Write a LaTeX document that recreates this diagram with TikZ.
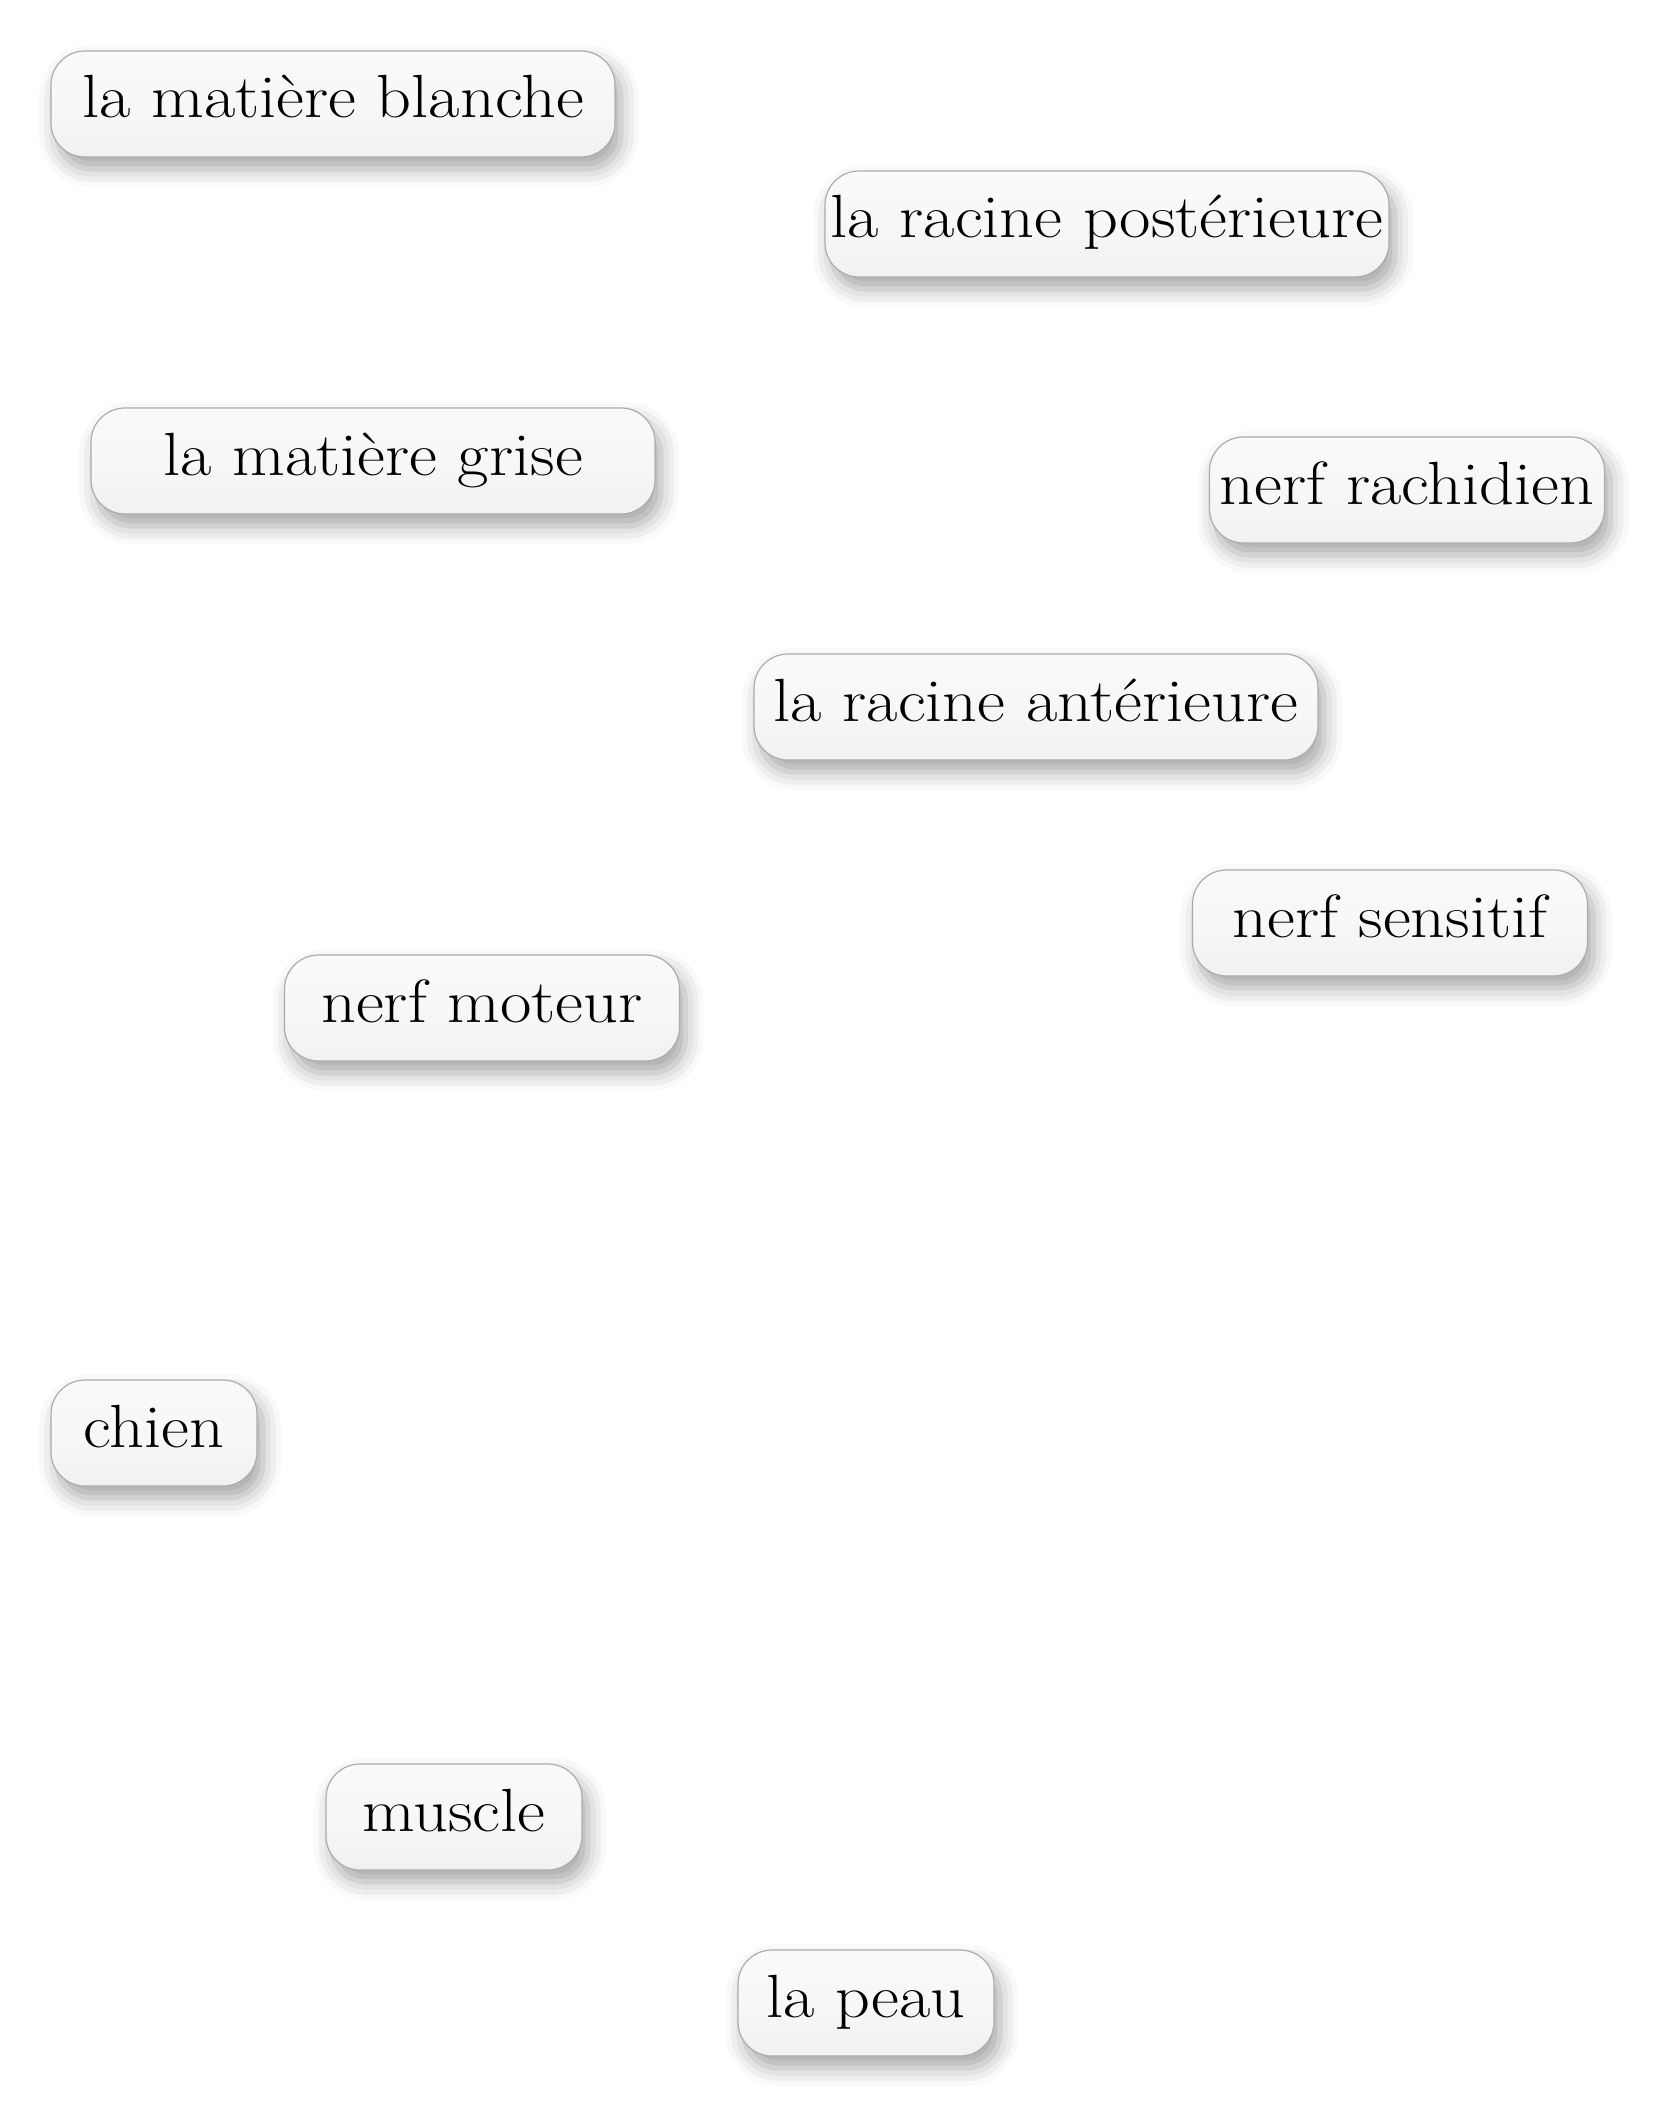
\documentclass[tikz,border=0pt]{standalone}
\usepackage{fontspec}
\setmainfont{Latin Modern Roman}[FakeStretch=1.12]
\usetikzlibrary{shadows.blur}

\tikzset{
  term/.style={rectangle,rounded corners=17pt,draw=gray!65,line width=0.6pt,
    top color=gray!4,bottom color=gray!11,middle color=gray!6,
    minimum height=53pt,inner sep=0pt,text height=20pt,text depth=6pt,
    font=\fontsize{30.5}{36}\selectfont,
    blur shadow={shadow xshift=3pt,shadow yshift=-6pt,shadow blur radius=9pt,shadow opacity=35}},
  wide/.style={minimum width=282pt},
  mid/.style={minimum width=197.5pt}
}

\begin{document}
\begin{tikzpicture}[x=0.5pt,y=-0.5pt]
  \useasboundingbox (0,0) rectangle (1663,2107);
  \node[term,wide] (blanche) at (333,104) {la matière blanche};
  \node[term,wide] (posterieure) at (1107,224) {la racine postérieure};
  \node[term,wide] (grise) at (373,461) {la matière grise};
  \node[term,mid] (rachidien) at (1407,490) {nerf rachidien};
  \node[term,wide] (anterieure) at (1036,707) {la racine antérieure};
  \node[term,mid] (sensitif) at (1390,923) {nerf sensitif};
  \node[term,mid] (moteur) at (482,1008) {nerf moteur};
  \node[term,minimum width=103pt] (chien) at (154,1433) {chien};
  \node[term,minimum width=128pt] (muscle) at (454,1817) {muscle};
  \node[term,minimum width=128pt] (peau) at (866,2003) {la peau};
\end{tikzpicture}
\end{document}
